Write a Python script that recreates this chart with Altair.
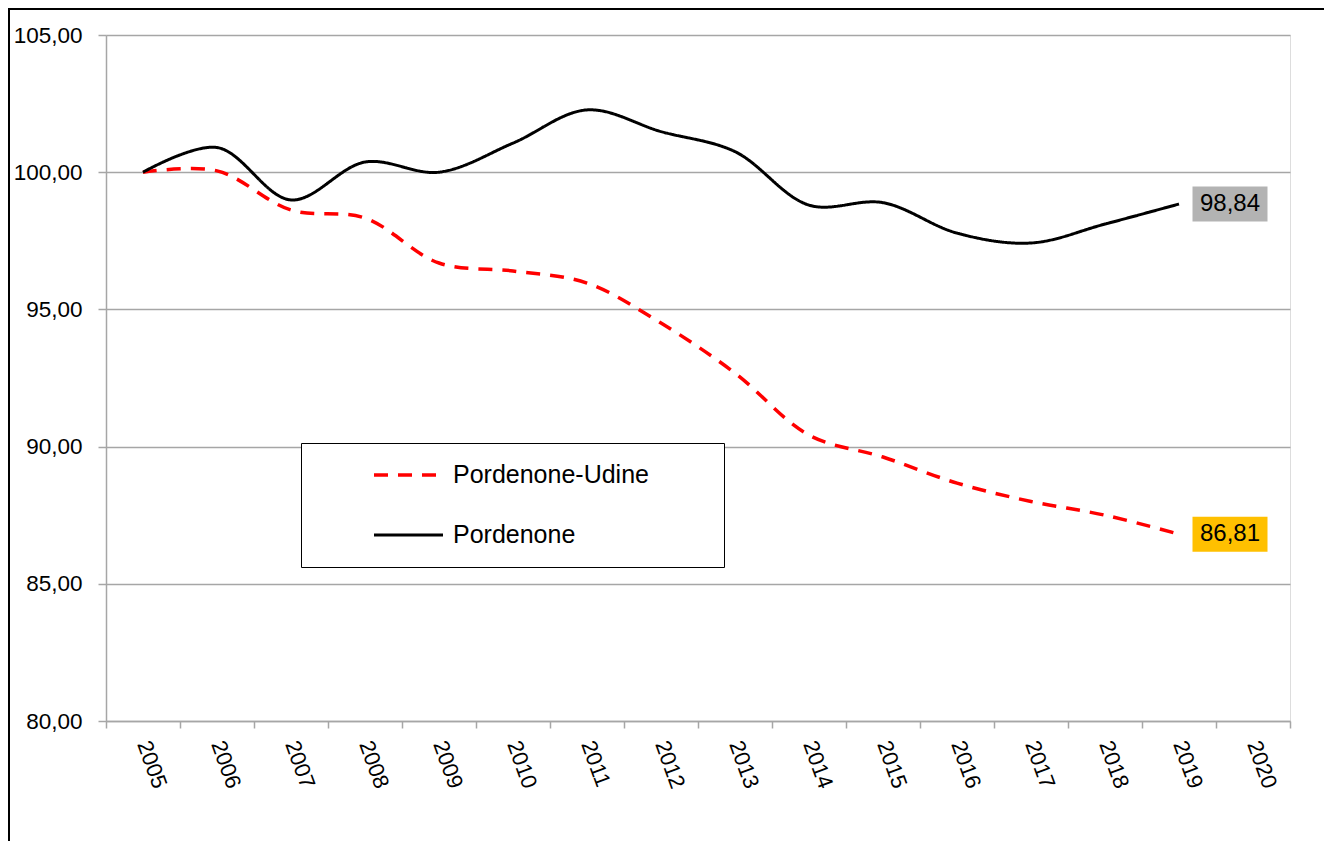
import altair as alt
import pandas as pd

years = ["2005", "2006", "2007", "2008", "2009", "2010", "2011", "2012",
         "2013", "2014", "2015", "2016", "2017", "2018", "2019", "2020"]
series_names = ["Pordenone-Udine", "Pordenone"]
pordenone_udine = [100.00, 100.05, 98.62, 98.33, 96.69, 96.40, 95.96, 94.50,
                   92.68, 90.42, 89.62, 88.67, 88.00, 87.50, 86.81]
pordenone = [100.00, 100.90, 98.99, 100.37, 100.00, 101.06, 102.27, 101.48,
             100.75, 98.80, 98.89, 97.78, 97.42, 98.11, 98.84]
y_ticks = [80, 85, 90, 95, 100, 105]
last_year = "2019"

line_colors = ["#FF0000", "#000000"]
line_dashes = [[14, 10], [1, 0]]
line_widths = [3.5, 3]
label_fills = ["#FFC000", "#B3B3B3"]

rows = []
for name, vals in zip(series_names, [pordenone_udine, pordenone]):
    for yr, v in zip(years, vals):
        rows.append({"year": yr, "series": name, "value": v})
df = pd.DataFrame(rows)
last = df[df["year"] == last_year]

FONT = "Liberation Sans"
GRID = "#A6A6A6"
NBSP = "\u00a0"
ZWSP = "\u200b"

W, H = 1184, 686
PAD = {"left": 98, "top": 27, "right": 34, "bottom": 120}

x_enc = alt.X(
    "year:N",
    scale=alt.Scale(type="band", domain=years, paddingInner=0, paddingOuter=0),
    axis=alt.Axis(
        title=None, labelAngle=70, labelAlign="left", labelBaseline="middle",
        labelFontSize=22, labelColor="black", labelFont=FONT,
        tickBand="extent", tickSize=7, tickColor=GRID, tickWidth=1.5,
        domainColor=GRID, domainWidth=1.5, labelPadding=13, grid=False,
    ),
)
y_enc = alt.Y(
    "value:Q",
    scale=alt.Scale(domain=[80, 105], nice=False, zero=False),
    axis=alt.Axis(
        title=None, values=y_ticks,
        labelExpr="replace(format(datum.value, '.2f'), '.', ',')",
        labelFontSize=22.5, labelColor="black", labelFont=FONT,
        grid=True, gridColor=GRID, gridWidth=1.5,
        tickSize=8, tickColor=GRID, tickWidth=1.5,
        domainColor=GRID, domainWidth=1.5, labelPadding=16,
    ),
)

legend = alt.Legend(
    title=None, orient="none", legendX=195, legendY=408, direction="vertical",
    symbolType="stroke", symbolSize=4761, symbolStrokeWidth=3.5,
    clipHeight=26, rowPadding=34, padding=19, symbolOffset=52, labelOffset=8,
    labelFontSize=25, labelFont=FONT, labelColor="black", labelLimit=600,
    strokeColor="black", fillColor="white",
    labelExpr="datum.label + '" + NBSP * 8 + ZWSP + "'",
)

# decorative outer frame: top and left edges of the chart border, drawn as
# explicit two-point segments
frame_data = pd.DataFrame({"k": [0]})
frame_left = alt.Chart(frame_data).mark_rule(color="black", strokeWidth=2, strokeCap="butt").encode(
    x=alt.value(-97), x2=alt.value(-97), y=alt.value(-27), y2=alt.value(H + PAD["bottom"])
)
frame_top = alt.Chart(frame_data).mark_rule(color="black", strokeWidth=2, strokeCap="butt").encode(
    x=alt.value(-98), x2=alt.value(W + PAD["right"]), y=alt.value(-26), y2=alt.value(-26)
)

lines = alt.Chart(df).mark_line(interpolate="catmull-rom").encode(
    x=x_enc,
    y=y_enc,
    color=alt.Color("series:N", scale=alt.Scale(domain=series_names, range=line_colors), legend=legend),
    strokeDash=alt.StrokeDash("series:N", scale=alt.Scale(domain=series_names, range=line_dashes), legend=legend),
    strokeWidth=alt.StrokeWidth("series:N", scale=alt.Scale(domain=series_names, range=line_widths), legend=None),
)

boxes = alt.Chart(last).mark_rect(width=75, height=35, xOffset=51).encode(
    x=alt.X("year:N"),
    y=alt.Y("value:Q"),
    fill=alt.Fill("series:N", scale=alt.Scale(domain=series_names, range=label_fills), legend=None),
)

texts = alt.Chart(last).transform_calculate(
    label="replace(format(datum.value, '.2f'), '.', ',')"
).mark_text(xOffset=51, fontSize=24, font=FONT, color="black", align="center", baseline="middle").encode(
    x=alt.X("year:N"),
    y=alt.Y("value:Q"),
    text="label:N",
)

chart = alt.layer(lines, boxes, texts, frame_left, frame_top).properties(
    width=W,
    height=H,
    autosize=alt.AutoSizeParams(type="none"),
    padding=PAD,
).configure_view(stroke="transparent").configure(font=FONT)

chart.save("out.html", embed_options={"renderer": "svg", "actions": False})
